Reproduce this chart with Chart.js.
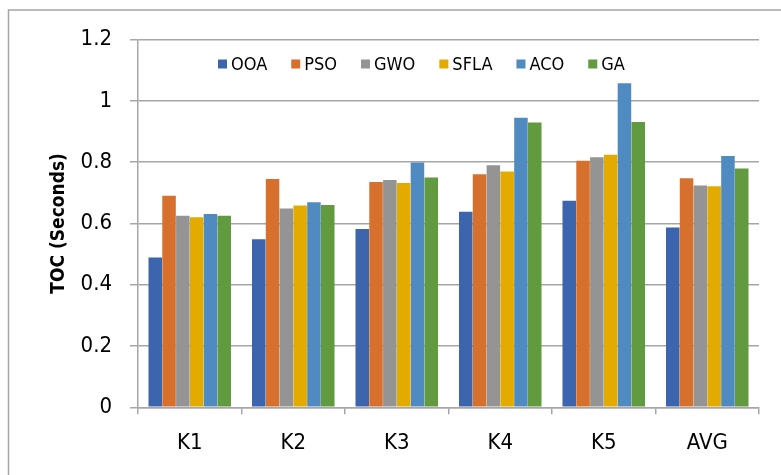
<!DOCTYPE html>
<html>
<head>
<meta charset="utf-8">
<script src="https://cdn.jsdelivr.net/npm/chart.js@4.4.1/dist/chart.umd.min.js"></script>
<style>
  html, body { margin: 0; padding: 0; background: #fff; }
  #wrap { width: 781px; height: 475px; position: relative; }
</style>
</head>
<body>
<div id="wrap"><canvas id="tocChart" width="781" height="475"></canvas></div>
<script>
const categories = ['K1', 'K2', 'K3', 'K4', 'K5', 'AVG'];
const seriesNames = ['OOA', 'PSO', 'GWO', 'SFLA', 'ACO', 'GA'];
const ooa  = [0.489, 0.548, 0.582, 0.638, 0.674, 0.587];
const pso  = [0.690, 0.745, 0.735, 0.760, 0.804, 0.747];
const gwo  = [0.625, 0.649, 0.742, 0.790, 0.816, 0.724];
const sfla = [0.620, 0.658, 0.732, 0.769, 0.824, 0.721];
const aco  = [0.631, 0.669, 0.799, 0.945, 1.057, 0.820];
const ga   = [0.625, 0.660, 0.750, 0.929, 0.931, 0.779];
const yTicks = [0, 0.2, 0.4, 0.6, 0.8, 1, 1.2];

const colors = ['#3d65ae', '#d6702c', '#949494', '#e3ab00', '#4f8bc0', '#629a40'];
const FONT = '"DejaVu Sans Condensed", "DejaVu Sans", sans-serif';
const GRID = '#a6a6a6';

const allSeries = [ooa, pso, gwo, sfla, aco, ga];

// frame: only the top and left edges show
const framePlugin = {
    id: 'frame',
    beforeDraw(chart) {
        const ctx = chart.ctx;
        ctx.save();
        ctx.fillStyle = '#fff';
        ctx.fillRect(0, 0, chart.width, chart.height);
        ctx.strokeStyle = '#a6a6a6';
        ctx.lineWidth = 1.5;
        ctx.beginPath();
        ctx.moveTo(8.5, chart.height);
        ctx.lineTo(8.5, 10);
        ctx.lineTo(chart.width, 10);
        ctx.stroke();
        ctx.restore();
    }
};

// legend row drawn inside the plot area
const legendPlugin = {
    id: 'innerLegend',
    afterDraw(chart) {
        const ctx = chart.ctx;
        ctx.save();
        ctx.font = '18px ' + FONT;
        ctx.textBaseline = 'middle';
        let x = 218;
        const y = 64;
        chart.data.datasets.forEach((ds) => {
            ctx.fillStyle = ds.backgroundColor;
            ctx.fillRect(x, y - 4.5, 9, 9);
            ctx.fillStyle = '#000';
            ctx.fillText(ds.label, x + 13, y + 1);
            x += 13 + ctx.measureText(ds.label).width + 24;
        });
        ctx.restore();
    }
};

new Chart(document.getElementById('tocChart'), {
    type: 'bar',
    data: {
        labels: categories,
        datasets: seriesNames.map((name, i) => ({
            label: name,
            data: allSeries[i],
            backgroundColor: colors[i],
            borderWidth: 0,
            categoryPercentage: 0.8,
            barPercentage: 0.98
        }))
    },
    options: {
        responsive: false,
        animation: false,
        devicePixelRatio: 1,
        layout: { padding: { left: 48, top: 39.5, right: 22, bottom: 0 } },
        plugins: {
            legend: { display: false },
            tooltip: { enabled: false }
        },
        scales: {
            x: {
                afterFit(scale) { scale.height = 67.7; },
                grid: { drawOnChartArea: false, tickLength: 7, color: GRID, lineWidth: 1.5, offset: true },
                border: { color: GRID, width: 1.5 },
                ticks: { color: '#000', font: { family: FONT, size: 22 }, padding: 16 }
            },
            y: {
                min: 0,
                max: 1.2,
                afterFit(scale) { scale.width = 90; },
                afterBuildTicks(scale) { scale.ticks = yTicks.map(v => ({ value: v })); },
                grid: { color: GRID, lineWidth: 1.5, tickLength: 8 },
                border: { color: GRID, width: 1.5 },
                ticks: {
                    color: '#000',
                    font: { family: FONT, size: 22 },
                    padding: 18,
                    callback: (v) => String(v)
                },
                title: {
                    display: true,
                    text: 'TOC (Seconds)',
                    color: '#000',
                    font: { family: FONT, size: 19, weight: 'bold' },
                    padding: { top: 0, bottom: 0 }
                }
            }
        }
    },
    plugins: [framePlugin, legendPlugin]
});
</script>
</body>
</html>
